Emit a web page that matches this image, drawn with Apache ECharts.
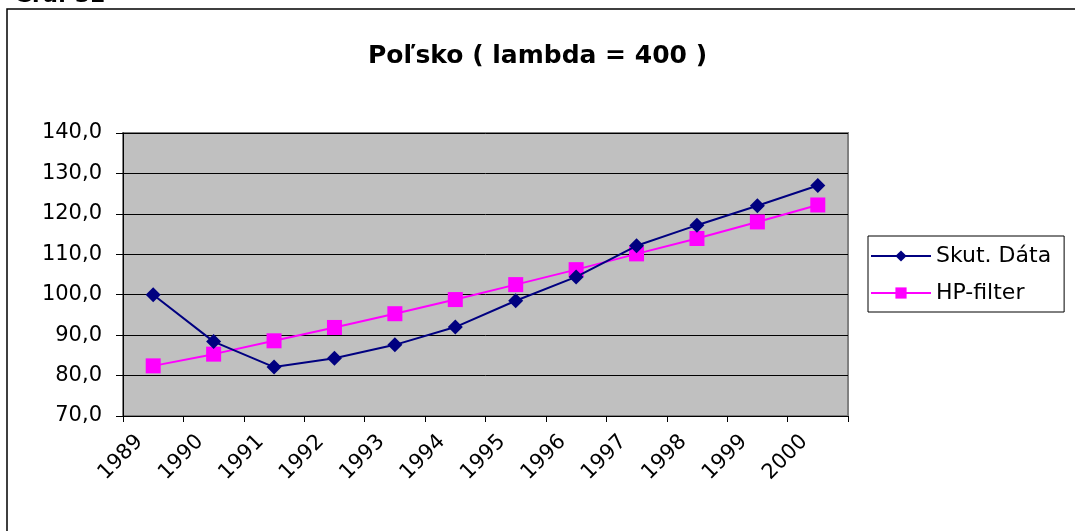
<!DOCTYPE html>
<html>
<head>
<meta charset="utf-8">
<title>Poľsko ( lambda = 400 )</title>
<script src="https://cdn.jsdelivr.net/npm/echarts@6/dist/echarts.min.js"></script>
<style>
  html, body { margin: 0; padding: 0; background: #fff; }
  #chart { width: 1075px; height: 531px; }
</style>
</head>
<body>
<div id="chart"></div>
<script>
  // roky na osi x
  var years = ['1989', '1990', '1991', '1992', '1993', '1994',
               '1995', '1996', '1997', '1998', '1999', '2000'];
  // skutocne data
  var skutData = [100.0, 88.4, 82.1, 84.3, 87.6, 92.0, 98.5, 104.4, 112.1, 117.2, 122.0, 127.0];
  // HP filter
  var hpFilter = [82.4, 85.3, 88.6, 91.9, 95.3, 98.8, 102.5, 106.2, 110.1, 113.9, 118.0, 122.2];

  var chart = echarts.init(document.getElementById('chart'));

  var font = '"DejaVu Sans", Arial, sans-serif';

  var option = {
    animation: false,
    textStyle: { fontFamily: font },
    title: {
      text: 'Poľsko ( lambda = 400 )',
      left: 'center',
      top: 39,
      textStyle: { fontSize: 25, fontWeight: 'bold', color: '#000', fontFamily: font }
    },
    graphic: [
      // ramik okolo grafu
      { type: 'rect', shape: { x: 7, y: 9, width: 1100, height: 560 },
        style: { fill: null, stroke: '#000', lineWidth: 1.5 } },
      // orezany nadpis nad ramikom
      { type: 'text', left: 14, top: -15,
        style: { text: 'Graf 32', font: 'bold 22px ' + font, fill: '#000' } }
    ],
    legend: {
      orient: 'vertical',
      left: 868,
      top: 236,
      padding: [9, 13, 8, 2],
      itemGap: 15,
      itemWidth: 60,
      itemHeight: 14,
      borderColor: '#000',
      borderWidth: 1,
      backgroundColor: '#fff',
      textStyle: { fontSize: 22, color: '#000', fontFamily: font },
      data: ['Skut. Dáta', 'HP-filter']
    },
    grid: {
      left: 123,
      right: 227,
      top: 133,
      bottom: 115,
      show: true,
      backgroundColor: '#C0C0C0',
      borderColor: '#808080',
      borderWidth: 2
    },
    xAxis: {
      type: 'category',
      data: years,
      boundaryGap: true,
      axisLine: { lineStyle: { color: '#000', width: 1 } },
      axisTick: { show: true, length: 6, lineStyle: { color: '#000' } },
      axisLabel: {
        rotate: 45, fontSize: 21, color: '#000', margin: 9, fontFamily: font,
        // neviditelny koniec posunie popisky sikmo dole dolava ako v Exceli
        formatter: function (v) { return '{y|' + v + '}{s|XX}'; },
        rich: {
          y: { fontSize: 21, color: '#000', fontFamily: font },
          s: { fontSize: 14, color: 'rgba(0,0,0,0)', fontFamily: font }
        }
      }
    },
    yAxis: {
      type: 'value',
      min: 70,
      max: 140,
      interval: 10,
      axisLine: { show: true, lineStyle: { color: '#000', width: 1 } },
      axisTick: { show: true, length: 7, lineStyle: { color: '#000' } },
      axisLabel: {
        fontSize: 21, color: '#000', margin: 21, fontFamily: font,
        formatter: function (v) { return v.toFixed(1).replace('.', ','); }
      },
      splitLine: { show: true, lineStyle: { color: '#000', width: 1 } }
    },
    series: [
      {
        name: 'Skut. Dáta',
        type: 'line',
        data: skutData,
        symbol: 'diamond',
        symbolSize: 15,
        color: '#000080',
        lineStyle: { width: 2, color: '#000080' },
        itemStyle: { color: '#000080' },
        z: 3
      },
      {
        name: 'HP-filter',
        type: 'line',
        data: hpFilter,
        symbol: 'rect',
        symbolSize: 15,
        color: '#FF00FF',
        lineStyle: { width: 2, color: '#FF00FF' },
        itemStyle: { color: '#FF00FF' },
        z: 2
      }
    ]
  };

  chart.setOption(option);
</script>
</body>
</html>
